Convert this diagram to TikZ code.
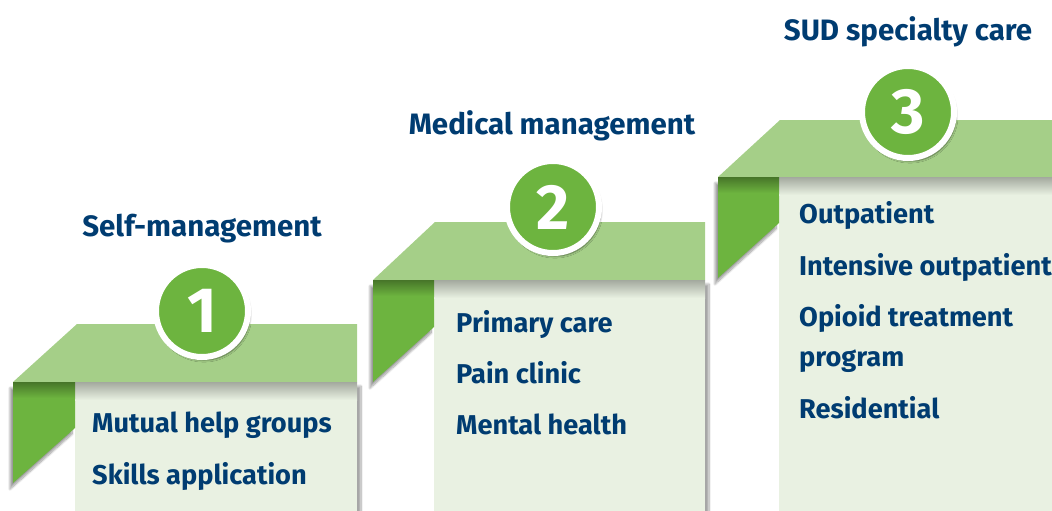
\documentclass[tikz,border=0pt]{standalone}
\usepackage{fontspec}
\setmainfont{Fira Sans}
\usetikzlibrary{shadows.blur}
\definecolor{stepnavy}{RGB}{0,60,113}
\definecolor{topgreen}{RGB}{165,207,136}
\definecolor{foldgreen}{RGB}{109,180,63}
\definecolor{boxpale}{RGB}{233,241,226}
\begin{document}
\begin{tikzpicture}[x=1pt, y=-1pt,
  title/.style={anchor=base, text=stepnavy, font=\bfseries\fontsize{29.5}{30}\selectfont},
  item/.style={anchor=base west, align=left, inner xsep=0pt, text=stepnavy, font=\bfseries\fontsize{27.2}{40}\selectfont},
  badge/.style={circle, fill=foldgreen, draw=white, line width=6pt, minimum size=92pt, inner sep=0pt,
    text=white, font=\bfseries\fontsize{64}{64}\selectfont,
    blur shadow={shadow xshift=2pt, shadow yshift=-3pt, shadow blur steps=10, shadow opacity=50}},
  stepbox/.style={fill=boxpale, blur shadow={shadow xshift=4pt, shadow yshift=-4pt, shadow blur steps=10, shadow opacity=35}},
  fold/.style={fill=foldgreen, blur shadow={shadow xshift=-3pt, shadow yshift=-6pt, shadow blur steps=10, shadow opacity=40}},
  topface/.style={fill=topgreen}]
\useasboundingbox (0,0) rectangle (1052,511);
% step 1
\fill[stepbox] (75,382) rectangle (357,511);
\fill[fold] (13,382) -- (75,382) -- (75,428) -- (13,483) -- cycle;
\fill[topface] (13,382) -- (77,324) -- (357,324) -- (357,382) -- cycle;
\shade[top color=black!30!boxpale, bottom color=boxpale] (75,382) rectangle (357,400);
\shade[top color=black!35!foldgreen, bottom color=foldgreen] (13,382) rectangle (75,398);
\node[badge] (B_1) at (202,311) {1};
\node[title] (T_1) at (202,236) {Self-management};
\node[item] (L_1_1) at (92,432) {Mutual help groups};
\node[item] (L_1_2) at (92,484) {Skills application};
% step 2
\fill[stepbox] (434,280) rectangle (705,511);
\fill[fold] (373,280) -- (434,280) -- (434,327) -- (373,382) -- cycle;
\fill[topface] (373,280) -- (435,222) -- (705,222) -- (705,280) -- cycle;
\shade[top color=black!30!boxpale, bottom color=boxpale] (434,280) rectangle (705,298);
\shade[top color=black!35!foldgreen, bottom color=foldgreen] (373,280) rectangle (434,296);
\node[badge] (B_2) at (553,207) {2};
\node[title] (T_2) at (552,134) {Medical management};
\node[item] (L_2_1) at (456,332) {Primary care};
\node[item] (L_2_2) at (456,383) {Pain clinic};
\node[item] (L_2_3) at (456,434) {Mental health};
% step 3
\fill[stepbox] (779,177) rectangle (1056,511);
\fill[fold] (718,177) -- (779,177) -- (779,223) -- (718,278) -- cycle;
\fill[topface] (718,177) -- (780,120) -- (1052,120) -- (1052,177) -- cycle;
\shade[top color=black!30!boxpale, bottom color=boxpale] (779,177) rectangle (1052,195);
\shade[top color=black!35!foldgreen, bottom color=foldgreen] (718,177) rectangle (779,193);
\node[badge] (B_3) at (908,112) {3};
\node[title] (T_3) at (908,41) {SUD specialty care};
\node[item] (L_3_1) at (799,223) {Outpatient};
\node[item] (L_3_2) at (799,275) {Intensive outpatient};
\node[item] (L_3_3) at (799,366) {Opioid treatment\\program};
\node[item] (L_3_4) at (799,418) {Residential};
\end{tikzpicture}
\end{document}
